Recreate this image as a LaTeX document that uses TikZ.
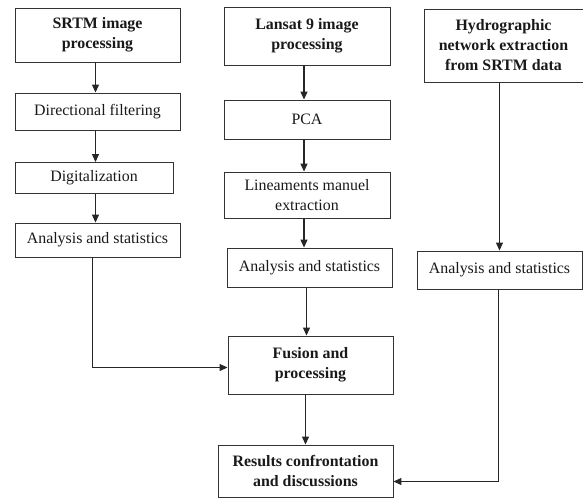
\documentclass[tikz,border=0pt]{standalone}
\usepackage{fontspec}
\setmainfont{Liberation Serif}
\usetikzlibrary{arrows.meta}
\tikzset{
  box/.style={draw=black!80, line width=0.9pt, rectangle, inner sep=0pt, align=center,
    text=black!90, font=\fontsize{15.9}{20}\selectfont},
  bbox/.style={box, font=\fontsize{15.9}{20}\selectfont\bfseries},
  arr/.style={draw=black!85, line width=1.1pt, -{Triangle[length=8pt,width=7pt]}},
  ln/.style={draw=black!85, line width=1.1pt}
}
\begin{document}
\begin{tikzpicture}[x=1pt,y=-1pt]
\useasboundingbox (0,0) rectangle (583,499);
% left column
\node[bbox, minimum width=165pt, minimum height=54pt] (srtm) at (97.5,35) {SRTM image\\processing};
\node[box, minimum width=165pt, minimum height=37pt] (dir) at (97.5,111.5) {Directional filtering};
\node[box, minimum width=158pt, minimum height=31pt] (dig) at (94,178) {Digitalization};
\node[box, minimum width=165pt, minimum height=34pt] (ana1) at (97.5,240) {Analysis and statistics};
% middle column
\node[bbox, minimum width=166pt, minimum height=58pt] (lan) at (307,36) {Lansat 9 image\\processing};
\node[box, minimum width=166pt, minimum height=39pt] (pca) at (307,119.5) {PCA};
\node[box, minimum width=166pt, minimum height=46pt] (lin) at (307,195) {Lineaments manuel\\extraction};
\node[box, minimum width=165pt, minimum height=39pt] (ana2) at (309.5,267.5) {Analysis and statistics};
\node[bbox, minimum width=165pt, minimum height=58pt] (fus) at (310.5,365) {Fusion and\\processing};
\node[bbox, minimum width=175pt, minimum height=52pt] (res) at (305.5,471) {Results confrontation\\and discussions};
% right column
\node[bbox, minimum width=159pt, minimum height=73pt] (hyd) at (503.5,45.5) {Hydrographic\\network extraction\\from SRTM data};
\node[box, minimum width=165pt, minimum height=38pt] (ana3) at (499.5,270) {Analysis and statistics};
% connectors
\draw[arr] ([xshift=-2pt]srtm.south) -- ([xshift=-2pt]dir.north);
\draw[arr] ([xshift=-2pt]dir.south) -- ([xshift=-2pt]dir.south |- dig.north);
\draw[arr] ([xshift=-2pt]dir.south |- dig.south) -- ([xshift=-2pt]dir.south |- ana1.north);
\draw[ln] ([xshift=-5pt]ana1.south) |- ([yshift=-2.5pt,xshift=-20pt]fus.west);
\draw[arr] ([xshift=-20pt,yshift=-2.5pt]fus.west) -- ([yshift=-2.5pt]fus.west);
\draw[arr] ([xshift=-3pt]lan.south) -- ([xshift=-3pt]pca.north);
\draw[arr] ([xshift=-3pt]pca.south) -- ([xshift=-3pt]lin.north);
\draw[arr] ([xshift=-3pt]lin.south) -- ([xshift=-3pt]lin.south |- ana2.north);
\draw[arr] ([xshift=-3pt]ana2.south) -- ([xshift=-3pt]ana2.south |- fus.north);
\draw[arr] (fus.south -| res.north) -- (res.north);
\draw[arr] (ana3.north |- hyd.south) -- (ana3.north);
\draw[ln] ([xshift=-1pt]ana3.south) |- ([yshift=-10.5pt,xshift=20pt]res.east);
\draw[arr] ([yshift=-10.5pt,xshift=20pt]res.east) -- ([yshift=-10.5pt]res.east);
\end{tikzpicture}
\end{document}
